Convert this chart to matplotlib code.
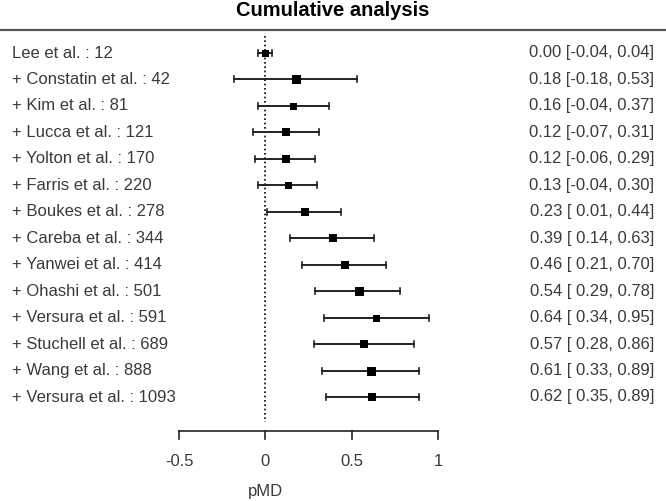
import matplotlib
matplotlib.use("Agg")
import matplotlib.pyplot as plt

studies = ["Lee et al. : 12", "+ Constatin et al. : 42", "+ Kim et al. : 81",
           "+ Lucca et al. : 121", "+ Yolton et al. : 170", "+ Farris et al. : 220",
           "+ Boukes et al. : 278", "+ Careba et al. : 344", "+ Yanwei et al. : 414",
           "+ Ohashi et al. : 501", "+ Versura et al. : 591", "+ Stuchell et al. : 689",
           "+ Wang et al. : 888", "+ Versura et al. : 1093"]
est = [0.00, 0.18, 0.16, 0.12, 0.12, 0.13, 0.23, 0.39, 0.46, 0.54, 0.64, 0.57, 0.61, 0.62]
lo = [-0.04, -0.18, -0.04, -0.07, -0.06, -0.04, 0.01, 0.14, 0.21, 0.29, 0.34, 0.28, 0.33, 0.35]
hi = [0.04, 0.53, 0.37, 0.31, 0.29, 0.30, 0.44, 0.63, 0.70, 0.78, 0.95, 0.86, 0.89, 0.89]
box = [7, 9, 7, 8, 8.5, 7, 8, 8, 8, 9, 7, 7.5, 9, 8]   # marker side in px
xticks = [-0.5, 0, 0.5, 1]
xticklabels = ["-0.5", "0", "0.5", "1"]

plt.rcParams['font.family'] = ['Liberation Sans', 'DejaVu Sans']

W, H = 666, 501
fig = plt.figure(figsize=(W / 100, H / 100), dpi=100)
ax = fig.add_axes([0, 0, 1, 1])
ax.axis('off')

# pixel mapping: x=-0.5 at 179px, x=1 at 438px; row 0 at 53px, row 13 at 397px
sx = (438 - 179) / 1.5
x0 = -0.5 - 179 / sx
x1 = -0.5 + (W - 179) / sx
sy = (397 - 53) / 13
ax.set_xlim(x0, x1)
ax.set_ylim(13 + (H - 397) / sy, -53 / sy)

def py(p):
    return (p - 53) / sy

def px(p):
    return x0 + p / sx

tc = '#3a3a3a'
fs = 12
n = len(studies)
for i in range(n):
    ax.plot([lo[i], hi[i]], [i, i], color='#222222', lw=1.4, zorder=2)
    for e in (lo[i], hi[i]):
        ax.plot([e, e], [i - 3 / sy, i + 3 / sy], color='#222222', lw=1.2, zorder=2)
    ax.plot(est[i], i, marker='s', color='black', markersize=box[i] * 0.72,
            markeredgewidth=0, zorder=3)
    ax.text(px(12), i, studies[i], ha='left', va='center', fontsize=fs, color=tc)
    lo_s = ("%.2f" % lo[i]) if lo[i] < 0 else " %.2f" % lo[i]
    ax.text(px(654), i, "%.2f [%s, %.2f]" % (est[i], lo_s, hi[i]),
            ha='right', va='center', fontsize=fs, color=tc)

# reference line at zero
ax.plot([0, 0], [py(36), py(422)], color='black', lw=1.2, ls=(0, (1, 1.6)), zorder=1)

# top rule
ax.plot([x0, x1], [py(30), py(30)], color='#555555', lw=1.6)

# bottom axis
ax.plot([xticks[0], xticks[-1]], [py(431), py(431)], color='#222222', lw=1.2)
for t, lab in zip(xticks, xticklabels):
    ax.plot([t, t], [py(431), py(439)], color='#222222', lw=1.2)
    ax.text(t, py(462), lab, ha='center', va='center', fontsize=fs, color=tc)
ax.text(0, py(491), "pMD", ha='center', va='center', fontsize=fs, color=tc)

ax.text(px(333), py(10), "Cumulative analysis", ha='center', va='center',
        fontsize=14.5, fontweight='bold', color='black')

fig.savefig("out.png", dpi=100)
